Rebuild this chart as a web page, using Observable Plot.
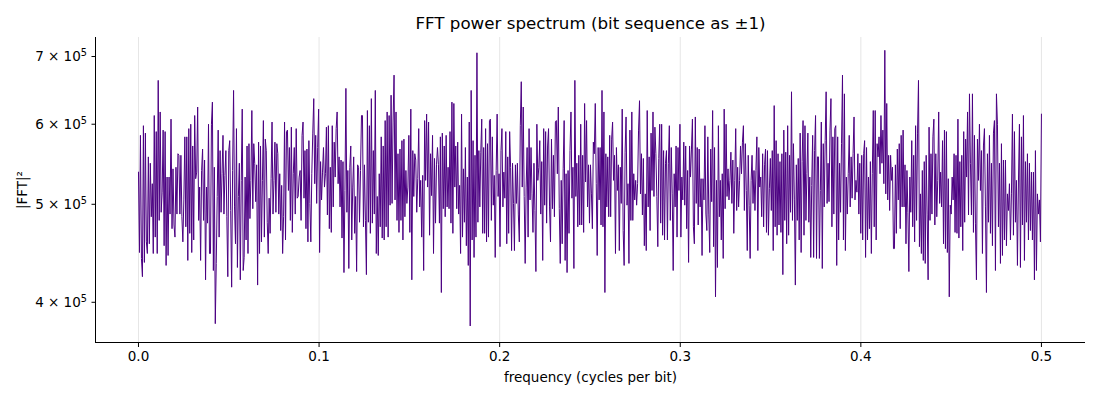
<!DOCTYPE html>
<html><head><meta charset="utf-8">
<script src="https://cdn.jsdelivr.net/npm/d3@7"></script>
<script src="https://cdn.jsdelivr.net/npm/@observablehq/plot@0.6"></script>
<style>body{margin:0;background:#fff;}</style>
</head><body><div id="chart"></div>
<script>
// |FFT|^2 values, in thousands
const segStartFreq = [0, 0.03987, 0.08195, 0.12403, 0.16611, 0.20819, 0.25028, 0.29236, 0.33444, 0.37652, 0.41860, 0.46069];
const segEndFreq = 0.5;

const seg1 = [538,448,585,442,424,598,438,588,459,447,557,457,549,486,524,447,612,464,590,447,663,482,617,491,514,592,455,590,435,532,445,532,489,607,473,542,477,464,544,489,561,559,489,559,486,459,505,583,475,583,440,594,468,600,448,571,461,612,530,538,624,482,520,440,540,567,482,553,421,520,479,600,447];
const seg2 = [447,600,631,430,544,381,437,509,592,464,565,491,536,585,489,534,565,486,424,565,578,493,414,540,648,497,457,594,433,509,549,421,528,621,430,443,532,461,571,447,574,484,528,619,495,574,549,503,547,416,576,447,571,459,528,605,464,580,565,480,447,507,468,530,603,489,528,576,491,574,561,489,536,471,522,447,486,603,461];
const seg3 = [590,592,516,569,482,596,469,536,569,489,594,507,509,532,540,482,585,603,507,565,473,567,459,578,501,459,536,588,636,524,585,501,569,621,448,551,505,538,569,520,536,596,488,598,473,544,469,598,497,576,532,594,617,524,557,497,553,463,551,428,516,651,491,540,432,544,571,461,520,557,468,509,429,547,544,480,540,612];
const seg4 = [612,475,547,482,426,619,480,598,468,636,479,565,489,648,447,509,445,536,475,583,463,571,461,605,475,617,464,612,499,641,501,603,671,505,617,482,561,469,567,482,578,461,580,486,540,501,520,585,469,621,421,565,509,561,553,491,530,594,497,528,464,534,430,605,528,614,520,603,466,561,510,585,447,555,479,547,569];
const seg5 = [547,479,583,409,588,495,571,486,585,497,544,495,590,479,631,468,629,520,571,495,576,489,522,447,614,464,542,480,569,455,532,435,603,379,648,461,578,443,559,464,706,480,565,497,563,607,468,569,468,594,459,574,464,605,607,482,583,499,534,443,540,614,509,536,454,565,594,497,538,507,590,457,557,468,590,544,450,549,501];
const seg6 = [450,547,501,549,488,459,598,661,520,624,509,437,520,569,464,594,505,569,512,469,549,493,429,600,528,544,578,489,551,440,594,499,590,479,571,594,497,459,580,495,559,486,603,605,536,624,495,437,528,457,542,605,440,536,428,540,468,565,617,507,544,432,663,509,549,475,559,477,600,477,559,469,629,526,605,497,547,479];
const seg7 = [547,512,473,576,561,629,524,445,569,505,569,477,648,475,617,409,561,497,557,486,585,486,580,603,528,559,447,569,516,547,450,544,501,621,471,435,563,610,499,524,437,592,482,617,482,536,505,528,499,524,592,633,512,561,488,555,455,512,450,619,497,557,471,588,516,617,509,596,561,509,454,555,600,479,600,466,565,461,549];
const seg8 = [565,461,549,598,482,569,512,430,536,497,571,464,569,516,600,464,532,505,576,499,571,473,540,438,571,532,567,607,475,457,610,501,569,477,567,497,530,445,530,505,598,489,471,583,489,448,567,503,619,454,569,405,528,433,598,486,528,461,536,442,621,495,600,509,542,505,528,563,501,553,468,528,594,493,544,497,528,571,536];
const seg9 = [576,598,493,574,516,450,559,499,442,528,559,501,540,493,540,583,450,569,520,532,486,561,475,547,567,469,565,466,518,555,493,565,450,626,475,578,466,561,477,551,469,561,426,592,482,563,457,598,466,559,491,646,482,574,505,416,547,482,555,461,588,448,551,605,466,598,482,536,588,480,532,443,522,585,443,565,612,442,557];
const seg10 = [557,442,516,603,432,574,497,578,646,501,549,503,592,636,475,583,489,594,598,435,583,461,549,491,574,671,461,643,450,532,489,536,585,497,557,507,561,610,505,528,514,561,489,549,468,559,461,561,578,443,569,461,532,473,551,447,536,619,475,619,461,574,557,583,536,612,549,592,524,710,512,629,505,559,493,559,528,544,452];
const seg11 = [452,547,468,567,505,574,473,585,497,592,497,547,457,540,491,429,532,491,578,475,559,459,598,482,588,663,454,512,447,540,440,551,437,559,489,421,596,482,561,489,583,607,477,561,486,528,617,501,538,497,578,457,592,452,590,448,530,405,499,489,532,505,561,469,559,468,607,463,551,475,559,450,590,480,580,532,617,488,643];
const seg12 = [549,488,643,469,585,479,421,580,528,600,516,565,447,571,594,497,409,561,480,585,468,549,455,588,605,430,643,600,475,549,437,574,445,553,461,553,455,512,493,524,461,512,614,466,590,480,528,435,526,600,433,583,477,612,440,551,480,561,461,549,471,538,461,538,421,565,430,512,489,505,459,614];

const xTicks = [0, 0.1, 0.2, 0.3, 0.4, 0.5];
const yTicks = [400, 500, 600, 700];
const xDomain = [-0.0238, 0.5244];
const yDomain = [365, 731];

const segments = [seg1, seg2, seg3, seg4, seg5, seg6, seg7, seg8, seg9, seg10, seg11, seg12];
const data = [];
segments.forEach((seg, i) => {
  const f0 = segStartFreq[i];
  const f1 = i + 1 < segStartFreq.length ? segStartFreq[i + 1] : segEndFreq;
  const n = i === segments.length - 1 ? seg.length - 1 : seg.length;
  seg.forEach((v, j) => data.push({f: f0 + (f1 - f0) * j / n, p: v}));
});

const chart = Plot.plot({
  width: 1100, height: 400,
  marginLeft: 95, marginRight: 15, marginTop: 37, marginBottom: 58,
  style: {fontFamily: "DejaVu Sans", fontSize: "14px", background: "#fff", color: "#000"},
  x: {domain: xDomain},
  y: {type: "log", domain: yDomain},
  marks: [
    Plot.gridX(xTicks, {stroke: "#e6e6e6", strokeOpacity: 1}),
    Plot.line(data, {x: "f", y: "p", stroke: "#4b0082", strokeWidth: 1}),
    Plot.axisX(xTicks, {tickSize: 5, tickPadding: 4, tickFormat: d3.format(".1f"), label: null, fontSize: 13.5}),
    Plot.axisY(yTicks, {tickSize: 3.5, tickPadding: 5, tickFormat: d => `${d / 100} × 10^5`, label: null, fontSize: 13.5}),
    Plot.ruleX([xDomain[0]], {stroke: "#000"}),
    Plot.ruleY([yDomain[0]], {stroke: "#000"}),
    Plot.text(["FFT power spectrum (bit sequence as ±1)"], {frameAnchor: "top", dy: -14, fontSize: 16.7, textAnchor: "middle", lineAnchor: "middle"}),
    Plot.text(["frequency (cycles per bit)"], {frameAnchor: "bottom", dy: 35, fontSize: 13.5, textAnchor: "middle", lineAnchor: "middle"}),
    Plot.text(["|FFT|²"], {frameAnchor: "left", dx: -73, rotate: -90, fontSize: 13.5, textAnchor: "middle", lineAnchor: "middle"})
  ]
});
// render the exponent as a true superscript
d3.select(chart).selectAll('g[aria-label="y-axis tick label"] text').each(function() {
  const t = d3.select(this);
  const parts = t.text().split("^");
  if (parts.length === 2) {
    t.text(parts[0]);
    t.append("tspan").attr("dy", "-0.45em").attr("font-size", "0.72em").text(parts[1]);
  }
});
document.getElementById("chart").appendChild(chart);
</script>
</body></html>
